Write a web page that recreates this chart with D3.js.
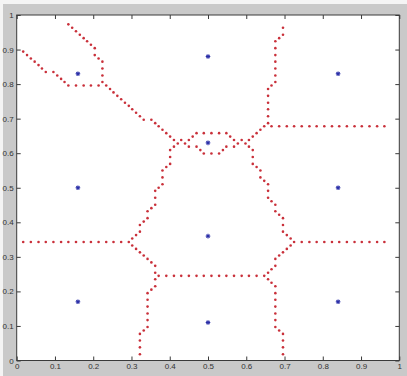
<!DOCTYPE html>
<html>
<head>
<meta charset="utf-8">
<title>Decision boundaries</title>
<script src="https://cdn.jsdelivr.net/npm/d3@7"></script>
<style>
  body { margin: 0; background: #fff; }
  svg text { font-family: "Liberation Sans", Arial, sans-serif; }
</style>
</head>
<body>
<svg id="chart" width="407" height="376"></svg>
<script>
// class centres (blue stars)
var centres = [[0.16,0.17],[0.5,0.11],[0.84,0.17],[0.16,0.5],[0.5,0.36],[0.84,0.5],
               [0.16,0.83],[0.5,0.88],[0.84,0.83],[0.5,0.63]];

// boundary dots, one list per border
var topLeftLower = [[0.017,0.894],[0.027,0.884],[0.037,0.874],[0.047,0.865],[0.057,0.855],[0.066,0.845],
  [0.076,0.835],[0.096,0.835],[0.106,0.825],[0.116,0.815],[0.125,0.806],[0.135,0.796],[0.155,0.796],
  [0.175,0.796],[0.194,0.796],[0.214,0.796]];
var topLeftRight = [[0.135,0.973],[0.145,0.963],[0.155,0.953],[0.165,0.943],[0.175,0.933],[0.184,0.924],
  [0.194,0.914],[0.204,0.904],[0.204,0.884],[0.214,0.874],[0.224,0.865],[0.224,0.845],[0.224,0.825],[0.224,0.806]];
var upperLeftDiag = [[0.234,0.796],[0.244,0.786],[0.253,0.776],[0.263,0.766],[0.273,0.756],[0.283,0.746],
  [0.293,0.737],[0.302,0.727],[0.312,0.717],[0.322,0.707],[0.332,0.697],[0.352,0.697],[0.362,0.687],
  [0.371,0.678],[0.381,0.668],[0.391,0.658],[0.401,0.648],[0.411,0.638],[0.421,0.628]];
var lens = [[0.430,0.638],[0.440,0.628],[0.450,0.638],[0.460,0.648],[0.470,0.658],[0.489,0.658],[0.509,0.658],
  [0.529,0.658],[0.548,0.658],[0.558,0.648],[0.568,0.638],[0.578,0.628],[0.588,0.638],[0.411,0.619],
  [0.450,0.619],[0.470,0.619],[0.480,0.609],[0.489,0.599],[0.509,0.599],[0.529,0.599],[0.539,0.609],
  [0.548,0.619],[0.568,0.619],[0.607,0.619]];
var midLeftDiag = [[0.302,0.353],[0.312,0.363],[0.322,0.373],[0.322,0.392],[0.332,0.402],[0.342,0.412],
  [0.342,0.432],[0.352,0.441],[0.362,0.451],[0.362,0.471],[0.362,0.491],[0.371,0.500],[0.381,0.510],
  [0.381,0.530],[0.381,0.550],[0.391,0.560],[0.401,0.569],[0.401,0.589],[0.401,0.609]];
var leftLine = [[0.017,0.343],[0.037,0.343],[0.057,0.343],[0.076,0.343],[0.096,0.343],[0.116,0.343],
  [0.135,0.343],[0.155,0.343],[0.175,0.343],[0.194,0.343],[0.214,0.343],[0.234,0.343],[0.253,0.343],
  [0.273,0.343],[0.293,0.343]];
var lowLeftDiag = [[0.302,0.333],[0.312,0.323],[0.322,0.313],[0.332,0.304],[0.342,0.294],[0.352,0.284],
  [0.362,0.274],[0.362,0.254]];
var lowLine = [[0.371,0.245],[0.391,0.245],[0.411,0.245],[0.430,0.245],[0.450,0.245],[0.470,0.245],
  [0.489,0.245],[0.509,0.245],[0.529,0.245],[0.548,0.245],[0.568,0.245],[0.588,0.245],[0.607,0.245],
  [0.627,0.245],[0.647,0.245]];
var bottomLeft = [[0.362,0.235],[0.362,0.215],[0.352,0.205],[0.342,0.195],[0.342,0.176],[0.342,0.156],
  [0.342,0.136],[0.342,0.117],[0.342,0.097],[0.332,0.087],[0.322,0.077],[0.322,0.058],[0.322,0.038],[0.322,0.018]];
var lowRightDiag = [[0.657,0.254],[0.666,0.264],[0.676,0.274],[0.676,0.294],[0.686,0.304],[0.696,0.313],
  [0.706,0.323],[0.716,0.333]];
var bottomRight = [[0.657,0.235],[0.666,0.225],[0.676,0.215],[0.676,0.195],[0.676,0.176],[0.676,0.156],
  [0.676,0.136],[0.676,0.117],[0.676,0.097],[0.686,0.087],[0.696,0.077],[0.696,0.058],[0.696,0.038],[0.696,0.018]];
var rightLine = [[0.725,0.343],[0.745,0.343],[0.765,0.343],[0.784,0.343],[0.804,0.343],[0.824,0.343],
  [0.843,0.343],[0.863,0.343],[0.883,0.343],[0.902,0.343],[0.922,0.343],[0.942,0.343],[0.961,0.343]];
var midRightDiag = [[0.716,0.353],[0.706,0.363],[0.696,0.373],[0.696,0.392],[0.696,0.412],[0.686,0.422],
  [0.676,0.432],[0.676,0.451],[0.666,0.461],[0.657,0.471],[0.657,0.491],[0.657,0.510],[0.647,0.520],
  [0.637,0.530],[0.637,0.550],[0.627,0.560],[0.617,0.569],[0.617,0.589],[0.617,0.609]];
var upperRightDiag = [[0.598,0.628],[0.607,0.638],[0.617,0.648],[0.627,0.658],[0.637,0.668],[0.647,0.678]];
var upperRightLine = [[0.666,0.678],[0.686,0.678],[0.706,0.678],[0.725,0.678],[0.745,0.678],[0.765,0.678],
  [0.784,0.678],[0.804,0.678],[0.824,0.678],[0.843,0.678],[0.863,0.678],[0.883,0.678],[0.902,0.678],
  [0.922,0.678],[0.942,0.678],[0.961,0.678]];
var topRight = [[0.657,0.687],[0.657,0.707],[0.657,0.727],[0.657,0.746],[0.657,0.766],[0.657,0.786],
  [0.666,0.796],[0.676,0.806],[0.676,0.825],[0.676,0.845],[0.676,0.865],[0.676,0.884],[0.676,0.904],
  [0.676,0.924],[0.686,0.933],[0.696,0.943],[0.696,0.963]];

var tickValues = [0,0.1,0.2,0.3,0.4,0.5,0.6,0.7,0.8,0.9,1];
var tickLabels = ["0","0.1","0.2","0.3","0.4","0.5","0.6","0.7","0.8","0.9","1"];

var borders = [topLeftLower, topLeftRight, upperLeftDiag, lens, midLeftDiag, leftLine, lowLeftDiag,
  lowLine, bottomLeft, lowRightDiag, bottomRight, rightLine, midRightDiag, upperRightDiag,
  upperRightLine, topRight];

var svg = d3.select("#chart");
var W = 407, H = 376;
// plot box edges (window.top is reserved, so use own names)
var plotL = 16.7, plotR = 399.3, plotT = 15, plotB = 360.5;

var x = d3.scaleLinear().domain([0,1]).range([plotL, plotR]);
var y = d3.scaleLinear().domain([0,1]).range([plotB, plotT]);

// figure background
svg.append("rect").attr("width", W).attr("height", H).attr("fill", "#f4f4f4");
svg.append("rect").attr("x", 3).attr("y", 4).attr("width", W - 3).attr("height", H - 4).attr("fill", "#c9c9c9");
svg.append("rect").attr("x", plotL).attr("y", plotT)
  .attr("width", plotR - plotL).attr("height", plotB - plotT).attr("fill", "#fff");

function fmt(d) { return tickLabels[tickValues.indexOf(d)]; }

var axisColor = "#3a3a3a";
function styleAxis(g) {
  g.select(".domain").remove();
  g.selectAll("line").attr("stroke", axisColor);
  g.selectAll("text").attr("fill", "#333").attr("font-size", 8);
}

svg.append("g").attr("transform", "translate(0," + plotB + ")")
  .call(d3.axisBottom(x).tickValues(tickValues).tickFormat(fmt).tickSize(-4).tickPadding(3))
  .call(styleAxis);
svg.append("g").attr("transform", "translate(" + plotL + ",0)")
  .call(d3.axisLeft(y).tickValues(tickValues).tickFormat(fmt).tickSize(-4).tickPadding(3))
  .call(styleAxis);
svg.append("g").attr("transform", "translate(0," + plotT + ")")
  .call(d3.axisTop(x).tickValues(tickValues).tickFormat("").tickSize(-4))
  .call(styleAxis);
svg.append("g").attr("transform", "translate(" + plotR + ",0)")
  .call(d3.axisRight(y).tickValues(tickValues).tickFormat("").tickSize(-4))
  .call(styleAxis);

// axes box
svg.append("rect").attr("x", plotL).attr("y", plotT)
  .attr("width", plotR - plotL).attr("height", plotB - plotT)
  .attr("fill", "none").attr("stroke", axisColor).attr("stroke-width", 1);

// red boundary dots
var dots = svg.append("g");
borders.forEach(function(b) {
  dots.selectAll(null).data(b).enter().append("circle")
    .attr("cx", function(d) { return x(d[0]); })
    .attr("cy", function(d) { return y(d[1]); })
    .attr("r", 1.3)
    .attr("fill", "#c9303a");
});

// blue asterisks
var star = svg.append("g").selectAll("g").data(centres).enter().append("g")
  .attr("transform", function(d) { return "translate(" + x(d[0]) + "," + y(d[1]) + ")"; })
  .attr("stroke", "#2b2fa8").attr("stroke-width", 1.1);
star.append("line").attr("x1", -2.3).attr("x2", 2.3);
star.append("line").attr("y1", -2.3).attr("y2", 2.3);
star.append("line").attr("x1", -1.6).attr("y1", -1.6).attr("x2", 1.6).attr("y2", 1.6);
star.append("line").attr("x1", -1.6).attr("y1", 1.6).attr("x2", 1.6).attr("y2", -1.6);
</script>
</body>
</html>
